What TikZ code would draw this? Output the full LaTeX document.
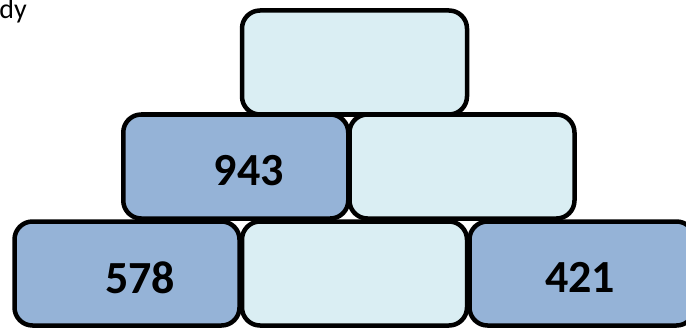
\documentclass[tikz,border=0pt]{standalone}
\usepackage{fontspec}
\setmainfont{Carlito}
\definecolor{darkfill}{HTML}{95B3D7}
\definecolor{lightfill}{HTML}{DAEEF3}
\tikzset{
  brick/.style={draw=black, line width=4.5pt, rounded corners=18pt, rectangle,
    minimum width=225pt, minimum height=104pt, inner sep=0pt, outer sep=0pt},
  darkbrick/.style={brick, fill=darkfill},
  lightbrick/.style={brick, fill=lightfill},
  num/.style={inner sep=0pt, font=\fontsize{46}{50}\selectfont\bfseries},
}
\begin{document}
\begin{tikzpicture}[x=1pt,y=-1pt]
\useasboundingbox (0,0) rectangle (686,329);
\clip (0,0) rectangle (686,329);
\fill[white] (0,0) rectangle (686,329);
\node[darkbrick] (b1) at (127,273.5) {};
\node[lightbrick] (b2) at (354.5,273.5) {};
\node[darkbrick] (b3) at (582,273.5) {};
\node[darkbrick] (m1) at (235.75,166.5) {};
\node[lightbrick] (m2) at (462,166.5) {};
\node[lightbrick] (t1) at (354.5,62.5) {};
\node[num] (n1) at ([xshift=13pt,yshift=-4pt]b1.center) {578};
\node[num] (n3) at ([xshift=-2pt,yshift=-4pt]b3.center) {421};
\node[num] (n2) at ([xshift=13pt,yshift=-4pt]m1.center) {943};
\node[anchor=base east, font=\fontsize{28}{30}\selectfont, inner sep=0pt] (lbl) at (27,19) {dy};
\end{tikzpicture}
\end{document}
